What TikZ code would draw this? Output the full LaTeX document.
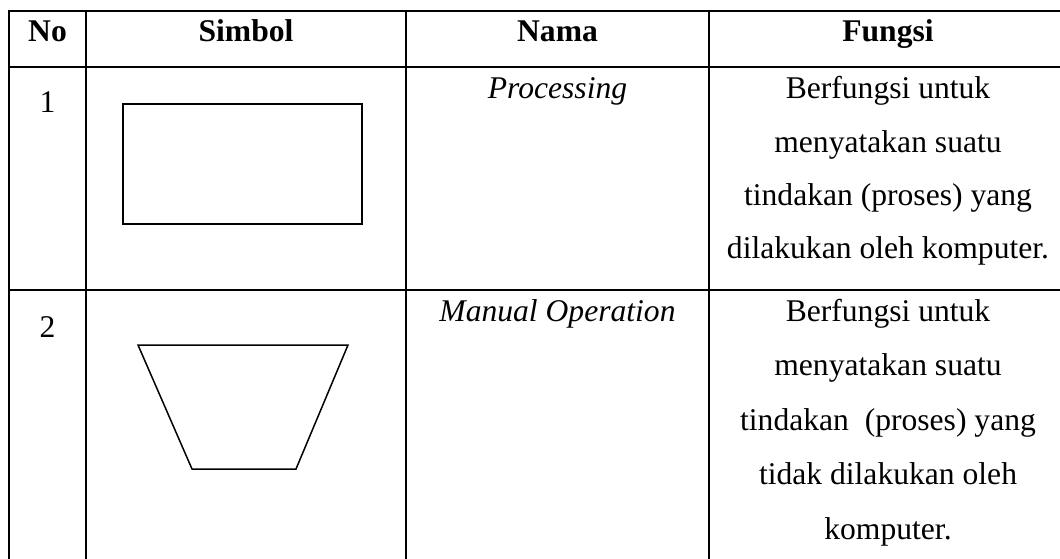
\documentclass[tikz,border=0pt]{standalone}
\usepackage{fontspec}
\setmainfont{Liberation Serif}
\begin{document}
\begin{tikzpicture}[x=1pt,y=-1pt,
  rule/.style={line width=2pt},
  symb/.style={line width=1.5pt, line join=miter},
  txt/.style={anchor=base, inner sep=0pt, font=\fontsize{31.6}{36}\selectfont},
  head/.style={txt, font=\fontsize{31.6}{36}\selectfont\bfseries}]
\useasboundingbox (0,0) rectangle (1060,559);
\fill[white] (0,0) rectangle (1060,559);

% table rules (right and lower edges run past the page)
\draw[rule] (8,11) -- (1060,11);
\draw[rule] (8,66.7) -- (1060,66.7);
\draw[rule] (8,290) -- (1060,290);
\draw[rule] (9,10) -- (9,559);
\draw[rule] (86,10) -- (86,559);
\draw[rule] (406,10) -- (406,559);
\draw[rule] (709,10) -- (709,559);

% header
\node[head] (hno)  at (47.5,42) {No};
\node[head] (hsym) at (246,42)  {Simbol};
\node[head] (hnam) at (557.5,42) {Nama};
\node[head] (hfun) at (888,42)  {Fungsi};

% row 1: processing
\node[txt] (n1) at (47.5,113) {1};
\draw[symb] (123,104) rectangle (362,224);
\node[txt] (nm1) at (557.5,99) {\textit{Processing}};
\node[txt] (f1a) at (888,99)    {Berfungsi untuk};
\node[txt] (f1b) at (888,152.5) {menyatakan suatu};
\node[txt] (f1c) at (888,205.5) {tindakan (proses) yang};
\node[txt] (f1d) at (888,258)   {dilakukan oleh komputer.};

% row 2: manual operation
\node[txt] (n2) at (47.5,337) {2};
\draw[symb] (138,345) -- (348,345) -- (296,469) -- (192,469) -- cycle;
\node[txt] (nm2) at (557.5,321) {\textit{Manual Operation}};
\node[txt] (f2a) at (888,321) {Berfungsi untuk};
\node[txt] (f2b) at (888,375.5) {menyatakan suatu};
\node[txt] (f2c) at (888,430) {tindakan\ \ (proses) yang};
\node[txt] (f2d) at (888,484.5) {tidak dilakukan oleh};
\node[txt] (f2e) at (888,539) {komputer.};
\end{tikzpicture}
\end{document}
